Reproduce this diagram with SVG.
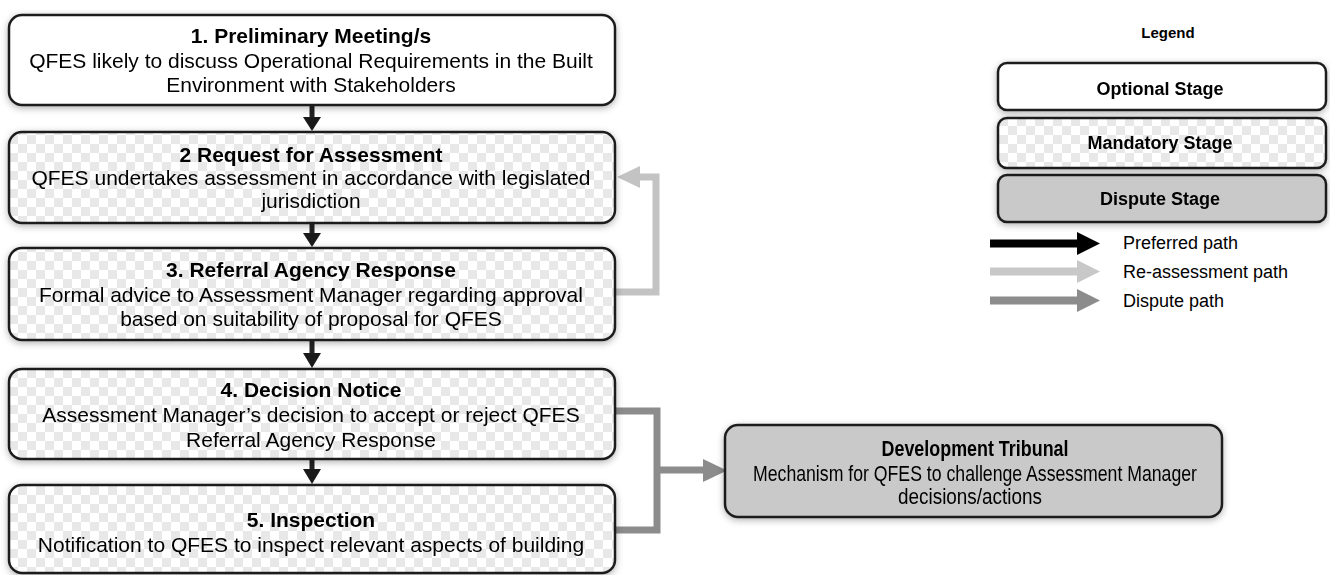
<svg xmlns="http://www.w3.org/2000/svg" width="1330" height="575" viewBox="0 0 1330 575">
<defs>
<pattern id="checker" width="18" height="18" patternUnits="userSpaceOnUse">
<rect width="18" height="18" fill="#ffffff"/>
<rect width="9" height="9" fill="#e8e8e8"/>
<rect x="9" y="9" width="9" height="9" fill="#e8e8e8"/>
</pattern>
<filter id="shadow" x="-10%" y="-20%" width="120%" height="140%">
<feDropShadow dx="0" dy="2" stdDeviation="3.5" flood-color="#000" flood-opacity="0.3"/>
</filter>
</defs>
<style>
.stage{stroke:#1e1e1e;stroke-width:2.5}
.opt{fill:#ffffff}
.man{fill:url(#checker)}
.dis{fill:#c9c9c9}
.t{font-family:"Liberation Sans",Arial,sans-serif;font-size:21px;fill:#000;text-anchor:middle}
.b{font-weight:bold}
.n{font-family:"Liberation Sans Narrow","Liberation Sans",Arial,sans-serif;font-size:22px}
.lg{font-family:"Liberation Sans",Arial,sans-serif;font-size:18px;fill:#000}
.pref{stroke:#222;stroke-width:5;fill:none}
.reas{stroke:#c3c3c3;stroke-width:7;fill:none}
.disp{stroke:#8c8c8c;stroke-width:7;fill:none}
</style>

<g id="connectors">
<line class="pref" x1="312" y1="106" x2="312" y2="118"/>
<path d="M303,117 L321,117 L312,131 Z" fill="#1a1a1a"/>
<line class="pref" x1="312" y1="224" x2="312" y2="234"/>
<path d="M303,233 L321,233 L312,247 Z" fill="#1a1a1a"/>
<line class="pref" x1="312" y1="341" x2="312" y2="354"/>
<path d="M303,353 L321,353 L312,368 Z" fill="#1a1a1a"/>
<line class="pref" x1="312" y1="460" x2="312" y2="470"/>
<path d="M303,469 L321,469 L312,484 Z" fill="#1a1a1a"/>
<polyline class="reas" points="616,292 656,292 656,177 639,177"/>
<path d="M640,166 L640,188 L617,177 Z" fill="#c3c3c3"/>
<polyline class="disp" points="616,411 657,411 657,530 616,530"/>
<line class="disp" x1="657" y1="470" x2="704" y2="470"/>
<path d="M703,459 L703,482 L727,470.5 Z" fill="#8c8c8c"/>
</g>

<g id="node1" filter="url(#shadow)">
<rect class="stage opt" x="9" y="15" width="606" height="90" rx="13"/>
<text class="t b" x="311" y="43">1. Preliminary Meeting/s</text>
<text class="t" x="311" y="68">QFES likely to discuss Operational Requirements in the Built</text>
<text class="t" x="311" y="92">Environment with Stakeholders</text>
</g>

<g id="node2" filter="url(#shadow)">
<rect class="stage man" x="9" y="132" width="606" height="91" rx="13"/>
<text class="t b" x="311" y="162">2 Request for Assessment</text>
<text class="t" x="311" y="185">QFES undertakes assessment in accordance with legislated</text>
<text class="t" x="311" y="208">jurisdiction</text>
</g>

<g id="node3" filter="url(#shadow)">
<rect class="stage man" x="9" y="248" width="606" height="92" rx="13"/>
<text class="t b" x="311" y="277">3. Referral Agency Response</text>
<text class="t" x="311" y="302">Formal advice to Assessment Manager regarding approval</text>
<text class="t" x="311" y="326">based on suitability of proposal for QFES</text>
</g>

<g id="node4" filter="url(#shadow)">
<rect class="stage man" x="9" y="369" width="606" height="90" rx="13"/>
<text class="t b" x="311" y="397">4. Decision Notice</text>
<text class="t" x="311" y="422">Assessment Manager’s decision to accept or reject QFES</text>
<text class="t" x="311" y="447">Referral Agency Response</text>
</g>

<g id="node5" filter="url(#shadow)">
<rect class="stage man" x="9" y="485" width="606" height="88" rx="13"/>
<text class="t b" x="311" y="527">5. Inspection</text>
<text class="t" x="311" y="552">Notification to QFES to inspect relevant aspects of building</text>
</g>

<g id="tribunal" filter="url(#shadow)">
<rect class="stage dis" x="725" y="425" width="497" height="92" rx="13"/>
<text class="t b n" x="975" y="456" textLength="187" lengthAdjust="spacingAndGlyphs">Development Tribunal</text>
<text class="t n" x="975" y="481" textLength="444" lengthAdjust="spacingAndGlyphs">Mechanism for QFES to challenge Assessment Manager</text>
<text class="t n" x="970" y="504" textLength="144" lengthAdjust="spacingAndGlyphs">decisions/actions</text>
</g>

<g id="legend">
<text x="1168" y="38" font-family="Liberation Sans, Arial, sans-serif" font-size="15" font-weight="bold" text-anchor="middle">Legend</text>
<g id="legend-optional" filter="url(#shadow)">
<rect class="stage opt" x="998" y="63" width="328" height="47" rx="9"/>
<text class="lg b" x="1160" y="95" text-anchor="middle">Optional Stage</text>
</g>
<g id="legend-mandatory" filter="url(#shadow)">
<rect class="stage man" x="998" y="118" width="328" height="50" rx="9"/>
<text class="lg b" x="1160" y="149" text-anchor="middle">Mandatory Stage</text>
</g>
<g id="legend-dispute" filter="url(#shadow)">
<rect class="stage dis" x="998" y="175" width="328" height="47" rx="9"/>
<text class="lg b" x="1160" y="205" text-anchor="middle">Dispute Stage</text>
</g>
<g id="legend-paths">
<line x1="990" y1="243.5" x2="1078" y2="243.5" stroke="#000" stroke-width="8"/>
<path d="M1077,232 L1077,255 L1100,243.5 Z" fill="#000"/>
<line x1="990" y1="271.5" x2="1078" y2="271.5" stroke="#c8c8c8" stroke-width="8"/>
<path d="M1077,260 L1077,283 L1100,271.5 Z" fill="#c8c8c8"/>
<line x1="990" y1="300.5" x2="1078" y2="300.5" stroke="#8c8c8c" stroke-width="8"/>
<path d="M1077,289 L1077,312 L1100,300.5 Z" fill="#8c8c8c"/>
<text class="lg" x="1123" y="249">Preferred path</text>
<text class="lg" x="1123" y="278">Re-assessment path</text>
<text class="lg" x="1123" y="307">Dispute path</text>
</g>
</g>
</svg>
